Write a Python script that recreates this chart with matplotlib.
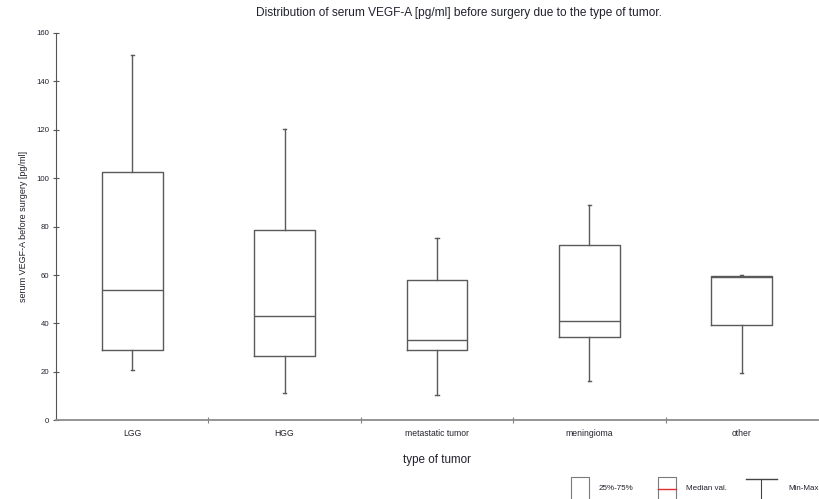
import matplotlib
matplotlib.use("Agg")
import matplotlib.pyplot as plt
from matplotlib.patches import Rectangle
from matplotlib.lines import Line2D

# Dane (pg/ml)
kategorie = ["LGG", "HGG", "metastatic tumor", "meningioma", "other"]
minimum = [20.6, 11.1, 10.6, 16.4, 19.4]
q1 = [29.0, 26.4, 28.9, 34.3, 39.3]
mediana = [53.7, 42.9, 33.3, 40.9, 59.0]
q3 = [102.5, 78.8, 57.8, 72.4, 59.6]
maksimum = [150.8, 120.5, 75.2, 89.0, 59.9]

plt.rcParams["font.family"] = ["Liberation Sans", "DejaVu Sans"]
kolor_tekstu = "#22222e"
kolor_pudla = "#5a5a5a"

fig = plt.figure(figsize=(8.19, 4.99), dpi=100)
ax = fig.add_axes([56 / 819, 78.7 / 499, 762 / 819, 387.3 / 499])

stats = []
for i, nazwa in enumerate(kategorie):
    stats.append({
        "label": nazwa,
        "whislo": minimum[i],
        "q1": q1[i],
        "med": mediana[i],
        "q3": q3[i],
        "whishi": maksimum[i],
        "fliers": [],
    })

ax.bxp(stats, positions=range(len(kategorie)), widths=0.4, capwidths=0.02,
       showfliers=False,
       boxprops=dict(color=kolor_pudla, linewidth=1.0),
       medianprops=dict(color=kolor_pudla, linewidth=1.0),
       whiskerprops=dict(color=kolor_pudla, linewidth=1.0),
       capprops=dict(color=kolor_pudla, linewidth=1.0))

ax.set_xlim(-0.5, len(kategorie) - 0.5)
ax.set_ylim(0, 160)
ax.set_yticks(range(0, 161, 20))
ax.set_xticks([i + 0.5 for i in range(len(kategorie) - 1)])
ax.set_xticklabels([])
ax.set_xticks(range(len(kategorie)), minor=True)
ax.set_xticklabels(kategorie, minor=True)
ax.tick_params(axis="x", which="major", direction="inout", length=4, color="#808080")
ax.tick_params(axis="x", which="minor", length=0, labelsize=6.2, labelcolor=kolor_tekstu, pad=6)
ax.tick_params(axis="y", direction="inout", length=4, color="#555555",
               labelsize=5.6, labelcolor=kolor_tekstu, pad=3)

for s in ["top", "right"]:
    ax.spines[s].set_visible(False)
ax.spines["left"].set_color("#555555")
ax.spines["bottom"].set_color("#8c8c8c")
ax.spines["bottom"].set_linewidth(1.3)

ax.set_ylabel("serum VEGF-A before surgery [pg/ml]", fontsize=6.5, color=kolor_tekstu, labelpad=6)
ax.set_xlabel("type of tumor", fontsize=8.4, color=kolor_tekstu, labelpad=12)
fig.text(0.56, 1 - 13 / 499, "Distribution of serum VEGF-A [pg/ml] before surgery due to the type of tumor.",
         ha="center", va="center", fontsize=8.6, color=kolor_tekstu)

# Legenda rysowana ręcznie na dole
def px(x, y):
    return x / 819, 1 - y / 499

szer, wys = 18 / 819, 24 / 499
fig.add_artist(Rectangle(px(571, 501), szer, wys, transform=fig.transFigure,
                         fill=False, edgecolor="#7a7a7a", linewidth=0.8, clip_on=False))
fig.text(*px(599, 489), "25%-75%", fontsize=5.8, va="center", color=kolor_tekstu)

fig.add_artist(Rectangle(px(658, 501), szer, wys, transform=fig.transFigure,
                         fill=False, edgecolor="#7a7a7a", linewidth=0.8, clip_on=False))
fig.add_artist(Line2D([658 / 819, 676 / 819], [1 - 489 / 499] * 2, transform=fig.transFigure,
                      color="#e03030", linewidth=1.0))
fig.text(*px(686, 488), "Median val.", fontsize=5.8, va="center", color=kolor_tekstu)

fig.add_artist(Line2D([746 / 819, 777 / 819], [1 - 479 / 499] * 2, transform=fig.transFigure,
                      color="#444444", linewidth=1.0))
fig.add_artist(Line2D([761 / 819, 761 / 819], [1 - 479 / 499, 0], transform=fig.transFigure,
                      color="#444444", linewidth=0.8))
fig.text(*px(788, 489), "Min-Max", fontsize=5.8, va="center", color=kolor_tekstu)

fig.savefig("out.png", dpi=100)
